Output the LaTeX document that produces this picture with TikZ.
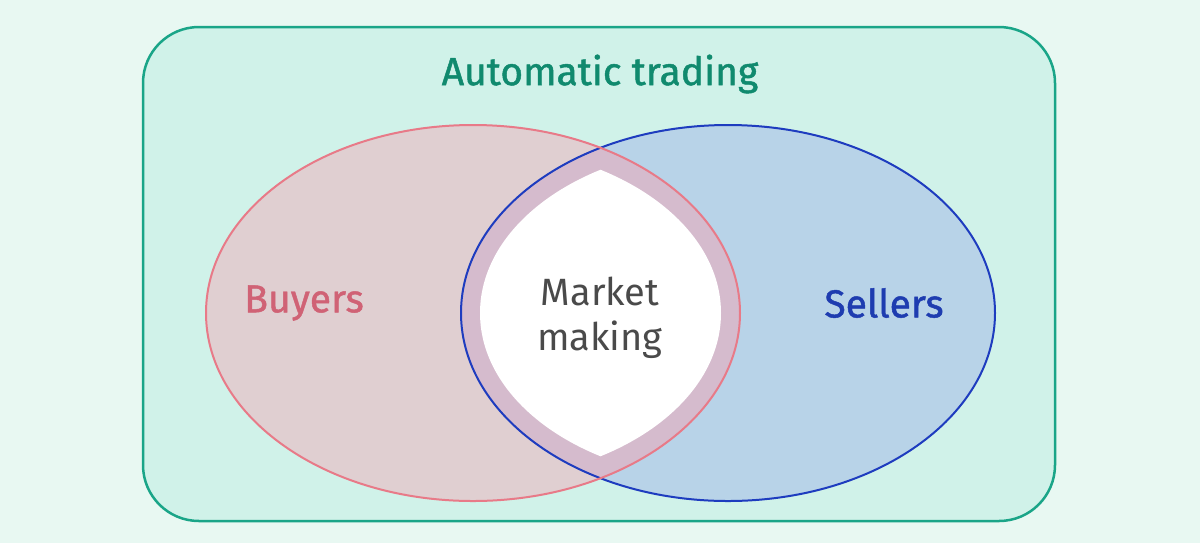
\documentclass[tikz,border=0pt]{standalone}
\usepackage{fontspec}
\setmainfont{Fira Sans}
\usepackage{tikz}

\definecolor{bgmint}{HTML}{E8F8F2}
\definecolor{boxfill}{HTML}{D0F2E9}
\definecolor{boxline}{HTML}{1AA588}
\definecolor{titlegreen}{HTML}{108A6E}
\definecolor{buyfill}{HTML}{E0CFD1}
\definecolor{buyline}{HTML}{E87A88}
\definecolor{buytext}{HTML}{D06275}
\definecolor{sellfill}{HTML}{B8D3E8}
\definecolor{sellline}{HTML}{1E3CBF}
\definecolor{selltext}{HTML}{1E3CB0}
\definecolor{bandfill}{HTML}{D5BBCD}
\definecolor{makertext}{HTML}{4A4A4A}

\tikzset{
  label text/.style={font=\fontsize{19.5}{23}\selectfont\addfontfeatures{FakeBold=1.2}},
}

\begin{document}
\begin{tikzpicture}[x=0.5pt,y=-0.5pt]
  %background
  \fill[bgmint] (0,0) rectangle (1200,543);
  \useasboundingbox (0,0) rectangle (1200,543);

  %rounded box
  \draw[boxline,fill=boxfill,line width=1.25pt,rounded corners=28pt] (143,27) rectangle (1055,521);

  %ellipses fill
  \fill[buyfill] (473,313) ellipse [x radius=267, y radius=188];
  \fill[sellfill] (728,313) ellipse [x radius=267, y radius=188];

  %overlap band
  \begin{scope}
    \clip (473,313) ellipse [x radius=267, y radius=188];
    \fill[bandfill] (728,313) ellipse [x radius=267, y radius=188];
  \end{scope}

  %white lens
  \begin{scope}
    \clip (473,313) ellipse [x radius=248, y radius=167];
    \fill[white] (728,313) ellipse [x radius=248, y radius=167];
  \end{scope}

  %outlines
  \draw[sellline,line width=1pt] (728,313) ellipse [x radius=267, y radius=188];
  \draw[buyline,line width=1pt] (473,313) ellipse [x radius=267, y radius=188];

  %texts
  \node[titlegreen,label text] (title) at (600,74) {Automatic trading};
  \node[buytext,label text] (buyers) at (304,303) {Buyers};
  \node[selltext,label text] (sellers) at (884,303) {Sellers};
  \node[makertext,align=center,font=\fontsize{19}{22.5}\selectfont] (market) at (600,318) {Market\\making};
\end{tikzpicture}
\end{document}
